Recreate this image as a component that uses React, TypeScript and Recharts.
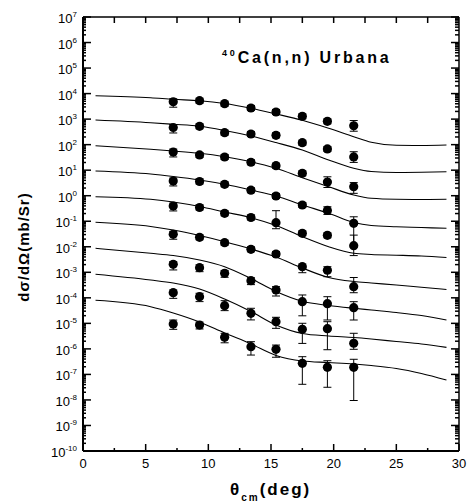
import React from 'react';
import { ComposedChart, Line, Scatter, XAxis, YAxis, ErrorBar } from 'recharts';

// measured angles (deg)
const angles = [7.2, 9.3, 11.3, 13.4, 15.4, 17.5, 19.5, 21.6];

// measured cross sections, one array per energy (shifted a decade each)
const meas1 = [4800, 5270, 4020, 2730, 1900, 1290, 820, 550];
const meas2 = [470, 524, 294, 261, 232, 119, 68, 33];
const meas3 = [51.5, 39.4, 32.8, 20.4, 15.0, 7.55, 3.44, 2.25];
const meas4 = [3.77, 3.6, 2.8, 1.64, 0.975, 0.433, 0.264, 0.083];
const meas5 = [0.395, 0.345, 0.205, 0.14, 0.0877, 0.0337, 0.0281, 0.011];
const meas6 = [0.0308, 0.0235, 0.0144, 0.00796, 0.00521, 0.00166, 0.0012, 0.000273];
const meas7 = [2.06e-3, 1.51e-3, 9.1e-4, 4.7e-4, 2.03e-4, 7.06e-5, 5.89e-5, 4.1e-5];
const meas8 = [1.59e-4, 1.11e-4, 4.92e-5, 2.48e-5, 1.16e-5, 5.85e-6, 6.18e-6, 1.66e-6];
const meas9 = [9.4e-6, 8.6e-6, 2.84e-6, 1.22e-6, 9.6e-7, 2.73e-7, 1.9e-7, 1.9e-7];

// relative errors [down, up]
const err1 = [[0.39, 0.3], [0.2, 0.25], [0.2, 0.25], [0.2, 0.25], [0.2, 0.25], [0.2, 0.25], [0.2, 0.25], [0.39, 0.6]];
const err2 = [[0.39, 0.3], [0.2, 0.25], [0.2, 0.25], [0.2, 0.25], [0.2, 0.25], [0.2, 0.25], [0.2, 0.25], [0.39, 0.6]];
const err3 = [[0.36, 0.3], [0.2, 0.25], [0.2, 0.25], [0.2, 0.25], [0.2, 0.25], [0.2, 0.25], [0.39, 0.6], [0.45, 0.45]];
const err4 = [[0.36, 0.3], [0.2, 0.25], [0.2, 0.25], [0.2, 0.25], [0.2, 0.25], [0.2, 0.25], [0.3, 0.4], [0.88, 0.8]];
const err5 = [[0.36, 0.3], [0.2, 0.25], [0.2, 0.25], [0.2, 0.25], [0.42, 1.95], [0.2, 0.25], [0.2, 0.25], [0.59, 1.6]];
const err6 = [[0.36, 0.3], [0.2, 0.25], [0.2, 0.25], [0.2, 0.25], [0.2, 0.25], [0.42, 0.27], [0.44, 0.38], [0.42, 1.29]];
const err7 = [[0.4, 0.27], [0.3, 0.3], [0.3, 0.3], [0.3, 0.3], [0.42, 0.35], [0.72, 0.83], [0.77, 0.88], [0.67, 0.72]];
const err8 = [[0.4, 0.28], [0.36, 0.36], [0.36, 0.57], [0.45, 0.57], [0.45, 0.49], [0.72, 0.72], [0.85, 0.88], [0.42, 1.46]];
const err9 = [[0.38, 0.43], [0.3, 0.3], [0.39, 0.43], [0.53, 0.57], [0.51, 0.47], [0.85, 0.81], [0.835, 0.81], [0.95, 1.06]];

// calculated curves
const curveAngles = [1, 5.4, 7.2, 9.3, 11.3, 13.4, 15.4, 17.5, 19.6, 21.6, 23, 25, 27, 29];
const calc1 = [8260, 6900, 5970, 5270, 4090, 2650, 1590, 899, 437, 205, 124, 94.4, 92.7, 96.8];
const calc2 = [925, 724, 627, 523, 358, 218, 121, 61.7, 25.1, 11.9, 8.87, 8.11, 8.26, 8.71];
const calc3 = [91.0, 65.8, 56.4, 45.8, 33.7, 21.5, 11.9, 5.07, 2.25, 1.07, 0.792, 0.723, 0.711, 0.723];
const calc4 = [9.29, 7.08, 5.65, 4.12, 2.8, 1.67, 0.975, 0.433, 0.205, 0.0893, 0.0681, 0.0611, 0.0569, 0.0528];
const calc5 = [0.914, 0.723, 0.567, 0.378, 0.23, 0.138, 0.0681, 0.0248, 0.01007, 0.00555, 0.00498, 0.00468, 0.00435, 0.0038];
const calc6 = [0.0908, 0.0622, 0.0454, 0.0276, 0.0158, 0.00818, 0.00397, 0.00147, 6.25e-4, 4.36e-4, 3.81e-4, 3.18e-4, 2.58e-4, 2.12e-4];
const calc7 = [8.71e-3, 5.55e-3, 4.55e-3, 3.03e-3, 1.66e-3, 5.71e-4, 1.77e-4, 7.31e-5, 5.01e-5, 3.89e-5, 3.33e-5, 2.66e-5, 2.03e-5, 1.36e-5];
const calc8 = [8.36e-4, 4.99e-4, 3.81e-4, 2.22e-4, 9.0e-5, 2.92e-5, 8.63e-6, 4.01e-6, 3.2e-6, 2.79e-6, 2.44e-6, 1.95e-6, 1.56e-6, 1.15e-6];
const calc9 = [8.0e-5, 4.5e-5, 2.55e-5, 1.13e-5, 4.19e-6, 1.56e-6, 5.51e-7, 3.36e-7, 2.93e-7, 2.56e-7, 2.23e-7, 1.71e-7, 1.09e-7, 6.04e-8];

// axis ticks
const decades = [-10, -9, -8, -7, -6, -5, -4, -3, -2, -1, 0, 1, 2, 3, 4, 5, 6, 7];
const minorMult = [2, 3, 4, 5, 6, 7, 8, 9];
const xTicks = [0, 5, 10, 15, 20, 25, 30];
const xMinor = [2.5, 7.5, 12.5, 17.5, 22.5, 27.5];

const measured = [meas1, meas2, meas3, meas4, meas5, meas6, meas7, meas8, meas9];
const errors = [err1, err2, err3, err4, err5, err6, err7, err8, err9];
const curves = [calc1, calc2, calc3, calc4, calc5, calc6, calc7, calc8, calc9];

const yTicks = [
  ...decades.map((k) => Number(`1e${k}`)),
  ...decades.slice(0, -1).flatMap((k) => minorMult.map((m) => Number(`${m}e${k}`))),
].sort((a, b) => a - b);
const xAll = [...xTicks, ...xMinor].sort((a, b) => a - b);
const xTop = xAll.filter((v) => v > 0 && v < 30);

const fam = 'Arial, "Liberation Sans", sans-serif';

const majorExp = (v: number) => {
  const e = Math.round(Math.log10(v));
  return Math.abs(v / Number(`1e${e}`) - 1) < 1e-6 ? e : null;
};

const LeftTick = ({ x, y, payload }: any) => {
  const e = majorExp(payload.value);
  return (
    <g>
      <line x1={x} x2={x + (e !== null ? 8 : 3)} y1={y} y2={y} stroke="#000" strokeWidth={1.5} />
      {e !== null && (
        <text x={x - 6} y={y + 6} textAnchor="end" fontSize={13} fontFamily={fam} fill="#000">
          10<tspan dy={-6} fontSize={8}>{e}</tspan>
        </text>
      )}
    </g>
  );
};

const RightTick = ({ x, y, payload }: any) => {
  const e = majorExp(payload.value);
  return <line x1={x} x2={x - (e !== null ? 8 : 4)} y1={y} y2={y} stroke="#000" strokeWidth={1.5} />;
};

const BottomTick = ({ x, y, payload }: any) => {
  const major = xTicks.includes(payload.value);
  return (
    <g>
      <line x1={x} x2={x} y1={y} y2={y - (major ? 7 : 3)} stroke="#000" strokeWidth={1.5} />
      {major && (
        <text x={x} y={y + 17} textAnchor="middle" fontSize={13} fontFamily={fam} fill="#000">
          {payload.value}
        </text>
      )}
    </g>
  );
};

const TopTick = ({ x, y }: any) => (
  <line x1={x} x2={x} y1={y} y2={y + 6} stroke="#000" strokeWidth={1.5} />
);

const Dot = (p: any) => <circle cx={p.cx} cy={p.cy} r={4.6} fill="#000" />;

export default function App() {
  return (
    <div style={{ position: 'absolute', left: 0, top: 0, width: 468, height: 504 }}>
      <ComposedChart width={468} height={504} margin={{ top: 16, right: 8, bottom: 0, left: 0 }}>
        <XAxis
          dataKey="x"
          type="number"
          domain={[0, 30]}
          allowDataOverflow
          ticks={xAll}
          interval={0}
          height={53}
          tickSize={0}
          tickMargin={0}
          tickLine={false}
          tick={<BottomTick />}
          axisLine={{ stroke: '#000', strokeWidth: 2 }}
        />
        <XAxis
          xAxisId="top"
          orientation="top"
          dataKey="x"
          type="number"
          domain={[0, 30]}
          allowDataOverflow
          ticks={xTop}
          interval={0}
          height={1}
          tickSize={0}
          tickMargin={0}
          tickLine={false}
          tick={<TopTick />}
          axisLine={{ stroke: '#000', strokeWidth: 1.5 }}
        />
        <YAxis
          dataKey="y"
          scale="log"
          type="number"
          domain={[1e-10, 1e7]}
          allowDataOverflow
          ticks={yTicks}
          interval={0}
          width={83}
          tickSize={0}
          tickMargin={0}
          tickLine={false}
          tick={<LeftTick />}
          axisLine={{ stroke: '#000', strokeWidth: 2 }}
        />
        <YAxis
          yAxisId="right"
          orientation="right"
          dataKey="y"
          scale="log"
          type="number"
          domain={[1e-10, 1e7]}
          allowDataOverflow
          ticks={yTicks}
          interval={0}
          width={1}
          tickSize={0}
          tickMargin={0}
          tickLine={false}
          tick={<RightTick />}
          axisLine={{ stroke: '#000', strokeWidth: 1.5 }}
        />
        {/* calculated curves use the top/right axes (same domains) */}
        {curves.map((c, i) => (
          <Line
            key={`c${i}`}
            xAxisId="top"
            yAxisId="right"
            data={curveAngles.map((x, j) => ({ x, y: c[j] }))}
            dataKey="y"
            type="monotone"
            stroke="#000"
            strokeWidth={1.1}
            dot={false}
            activeDot={false}
            isAnimationActive={false}
          />
        ))}
        {measured.map((m, i) => (
          <Scatter
            key={`m${i}`}
            data={angles.map((x, j) => ({
              x,
              y: m[j],
              err: [m[j] * errors[i][j][0], m[j] * errors[i][j][1]],
            }))}
            dataKey="y"
            shape={Dot}
            isAnimationActive={false}
          >
            <ErrorBar dataKey="err" direction="y" width={4} stroke="#000" strokeWidth={1} isAnimationActive={false} />
          </Scatter>
        ))}
      </ComposedChart>
      <svg width={468} height={504} style={{ position: 'absolute', left: 0, top: 0, pointerEvents: 'none' }}>
        <text x={222} y={63} fontFamily={fam} fontWeight="bold" fontSize={16} letterSpacing={2.8} fill="#000">
          <tspan fontSize={9} dy={-7}>40</tspan>
          <tspan dy={7}>Ca(n,n) Urbana</tspan>
        </text>
        <text
          x={29}
          y={247}
          transform="rotate(-90, 29, 247)"
          textAnchor="middle"
          fontFamily={fam}
          fontWeight="bold"
          fontSize={15}
          letterSpacing={1}
          fill="#000"
        >
          dσ/dΩ(mb/Sr)
        </text>
        <text x={230} y={495} fontFamily={fam} fontWeight="bold" fontSize={17} letterSpacing={2} fill="#000">
          θ<tspan fontSize={10} dy={6}>cm</tspan>
          <tspan dy={-6}>(deg)</tspan>
        </text>
      </svg>
    </div>
  );
}
